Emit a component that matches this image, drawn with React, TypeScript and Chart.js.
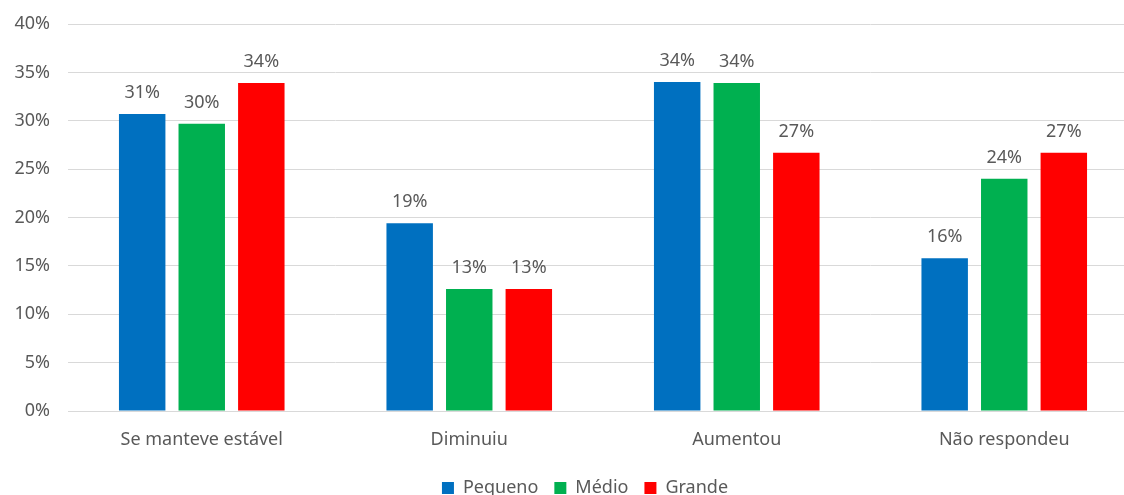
import React, { useEffect, useRef } from "react";
import { Chart, registerables } from "chart.js";

Chart.register(...registerables);

const categories = ["Se manteve estável", "Diminuiu", "Aumentou", "Não respondeu"];
const pequeno = [30.7, 19.4, 34.0, 15.8];
const medio = [29.7, 12.6, 33.9, 24.0];
const grande = [33.9, 12.6, 26.7, 26.7];
const seriesNames = ["Pequeno", "Médio", "Grande"];
const seriesColors = ["#0070C0", "#00B050", "#FF0000"];

const FONT = "'Noto Sans', 'Open Sans', sans-serif";
const TEXT = "#595959";

const dataLabels = {
  id: "dataLabels",
  afterDatasetsDraw(chart: any) {
    const ctx = chart.ctx;
    ctx.save();
    ctx.font = `18px ${FONT}`;
    ctx.fillStyle = TEXT;
    ctx.textAlign = "center";
    ctx.textBaseline = "alphabetic";
    chart.data.datasets.forEach((ds: any, di: number) => {
      const meta = chart.getDatasetMeta(di);
      meta.data.forEach((bar: any, i: number) => {
        const v = ds.data[i];
        ctx.fillText(`${Math.round(v)}%`, bar.x, bar.y - 16);
      });
    });
    ctx.restore();
  },
};

export default function App() {
  const ref = useRef<HTMLCanvasElement>(null);
  useEffect(() => {
    const series = [pequeno, medio, grande];
    const chart = new Chart(ref.current!, {
      type: "bar",
      data: {
        labels: categories,
        datasets: series.map((d, i) => ({
          label: seriesNames[i],
          data: d,
          backgroundColor: seriesColors[i],
          categoryPercentage: 0.668,
          barPercentage: 0.78,
          yAxisID: "y",
        })),
      },
      options: {
        animation: false,
        responsive: false,
        layout: { padding: { top: 24, left: 0, right: 0, bottom: 3 } },
        plugins: {
          legend: {
            position: "bottom",
            labels: {
              boxWidth: 12,
              boxHeight: 12,
              padding: 16,
              color: TEXT,
              font: { family: FONT, size: 18 },
            },
          },
          tooltip: { enabled: false },
        },
        scales: {
          x: {
            grid: { display: false },
            border: { color: "#d9d9d9" },
            ticks: { color: TEXT, font: { family: FONT, size: 18 }, padding: 10 },
            afterFit: (s: any) => { s.height = 52; },
          },
          y: {
            min: 0,
            max: 40,
            ticks: {
              stepSize: 5,
              color: TEXT,
              font: { family: FONT, size: 18 },
              padding: 18,
              callback: (v: any) => `${v}%`,
            },
            grid: { color: "#d9d9d9", drawTicks: false },
            border: { display: false },
            afterFit: (s: any) => { s.width = 68; s.paddingTop = 0; s.paddingBottom = 0; },
          },
          yr: {
            position: "right",
            display: true,
            grid: { display: false },
            border: { display: false },
            ticks: { display: false },
            afterFit: (s: any) => { s.width = 32; s.paddingTop = 0; s.paddingBottom = 0; },
          },
        },
      },
      plugins: [dataLabels],
    });
    return () => chart.destroy();
  }, []);
  return (
    <div style={{ position: "absolute", left: 0, top: 0, width: 1124, height: 495, overflow: "hidden", background: "#fff" }}>
      <canvas ref={ref} width={1170} height={510} />
    </div>
  );
}
